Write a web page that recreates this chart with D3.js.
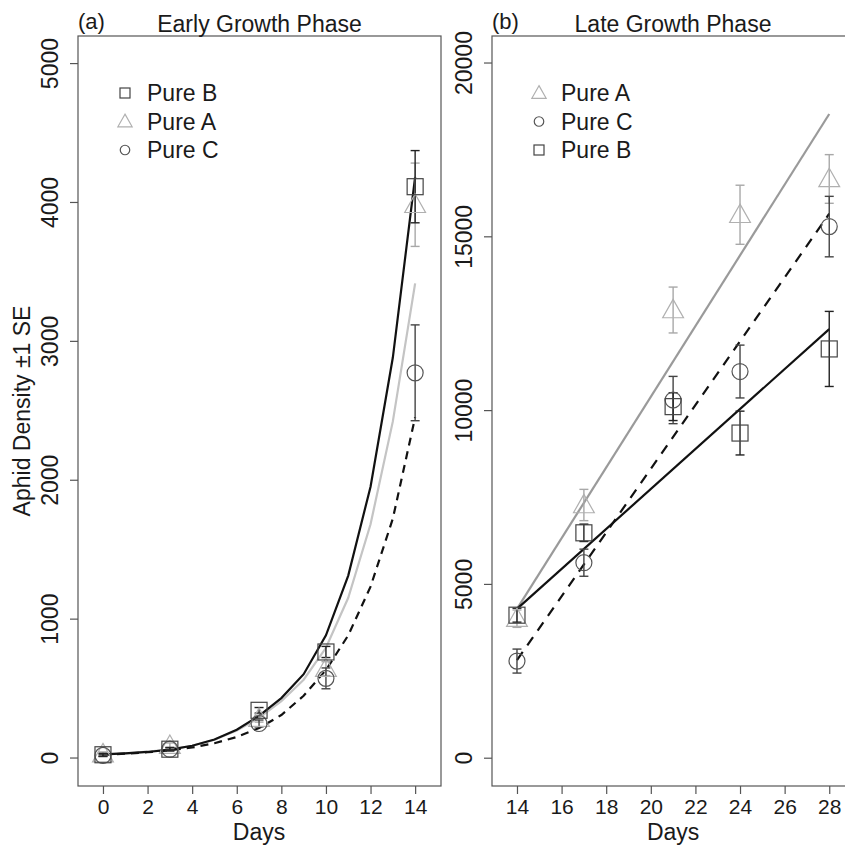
<!DOCTYPE html>
<html>
<head>
<meta charset="utf-8">
<script src="https://cdn.jsdelivr.net/npm/d3@7"></script>
<style>
  html, body { margin: 0; padding: 0; background: #fff; }
  svg { display: block; font-family: "Liberation Sans", Arial, sans-serif; }
</style>
</head>
<body>
<svg id="chart" width="845" height="847"></svg>
<script>
// ---------- Data ----------
// Panel (a) Early growth phase
const daysEarly = [0, 3, 7, 10, 14];
const earlyB = [20, 60, 340, 760, 4110];
const earlyBse = [10, 12, 20, 40, 260];
const earlyA = [25, 85, 280, 640, 3980];
const earlyAse = [15, 20, 25, 50, 300];
const earlyC = [15, 60, 245, 570, 2770];
const earlyCse = [8, 12, 25, 75, 345];
// fitted curves (read at integer days)
const fitDaysEarly = [0,1,2,3,4,5,6,7,8,9,10,11,12,13,14];
const fitEarlyB = [22,30,40,57,85,130,200,300,428,600,880,1310,1950,2880,4180];
const fitEarlyA = [22,30,42,58,85,128,195,285,405,560,790,1150,1680,2420,3414];
const fitEarlyC = [20,28,38,52,72,103,148,212,306,445,630,880,1230,1720,2450];

// Panel (b) Late growth phase
const daysLate = [14, 17, 21, 24, 28];
const lateA = [4000, 7270, 12880, 15620, 16650];
const lateAse = [250, 450, 660, 850, 700];
const lateC = [2780, 5610, 10290, 11110, 15280];
const lateCse = [345, 390, 680, 760, 870];
const lateB = [4100, 6470, 10100, 9340, 11760];
const lateBse = [200, 250, 400, 630, 1080];
const fitDaysLate = [14, 28];
const fitLateA = [4280, 18520];
const fitLateB = [4280, 12330];
const fitLateC = [2810, 15650];

const ticksXEarly = [0, 2, 4, 6, 8, 10, 12, 14];
const ticksYEarly = [0, 1000, 2000, 3000, 4000, 5000];
const ticksXLate = [14, 16, 18, 20, 22, 24, 26, 28];
const ticksYLate = [0, 5000, 10000, 15000, 20000];

// ---------- Styles ----------
const AXIS = "#555";
const TEXT = "#1a1a1a";
const style = {
  B: { shape: "square", stroke: "#444", err: "#222" },
  A: { shape: "triangle", stroke: "#b0b0b0", err: "#a8a8a8" },
  C: { shape: "circle", stroke: "#555", err: "#444" }
};

const svg = d3.select("#chart");

function symbol(g, shape, x, y, s, color) {
  if (shape === "square") {
    g.append("rect").attr("x", x - s/2).attr("y", y - s/2).attr("width", s).attr("height", s)
      .attr("fill", "none").attr("stroke", color).attr("stroke-width", 1.2);
  } else if (shape === "circle") {
    g.append("circle").attr("cx", x).attr("cy", y).attr("r", s/2)
      .attr("fill", "none").attr("stroke", color).attr("stroke-width", 1.2);
  } else {
    const w = s * 1.3 / 2, h = s * 1.15;
    g.append("path")
      .attr("d", `M${x},${y - h*0.58}L${x + w},${y + h*0.42}L${x - w},${y + h*0.42}Z`)
      .attr("fill", "none").attr("stroke", color).attr("stroke-width", 1.2);
  }
}

function panel(cfg) {
  const g = svg.append("g");
  const x = d3.scaleLinear().domain(cfg.xdom).range([cfg.left, cfg.right]);
  const y = d3.scaleLinear().domain(cfg.ydom).range([cfg.bottom, cfg.top]);

  // box
  g.append("rect").attr("x", cfg.left).attr("y", cfg.top)
    .attr("width", cfg.right - cfg.left).attr("height", cfg.bottom - cfg.top)
    .attr("fill", "none").attr("stroke", AXIS).attr("stroke-width", 1.2);

  // axes
  const ax = g.append("g").attr("transform", `translate(0,${cfg.bottom})`)
    .call(d3.axisBottom(x).tickValues(cfg.xticks).tickSize(8).tickPadding(5).tickFormat(d3.format("d")));
  ax.select(".domain").remove();
  ax.selectAll("line").attr("stroke", AXIS).attr("stroke-width", 1.2);
  ax.selectAll("text").attr("font-size", 21).attr("fill", TEXT).attr("font-family", "Liberation Sans, Arial, sans-serif");

  const ay = g.append("g").attr("transform", `translate(${cfg.left},0)`)
    .call(d3.axisLeft(y).tickValues(cfg.yticks).tickSize(8).tickFormat(d3.format("d")));
  ay.select(".domain").remove();
  ay.selectAll("line").attr("stroke", AXIS).attr("stroke-width", 1.2);
  ay.selectAll("text")
    .attr("font-size", 23).attr("fill", TEXT).attr("font-family", "Liberation Sans, Arial, sans-serif")
    .attr("text-anchor", "middle").attr("dy", null).attr("x", null)
    .attr("transform", "translate(-26,0) rotate(-90)").attr("y", 0).attr("dominant-baseline", "middle");

  // x label
  g.append("text").attr("x", x(cfg.daysCenter)).attr("y", 840).attr("text-anchor", "middle")
    .attr("font-size", 23).attr("fill", TEXT).text("Days");

  // titles
  g.append("text").attr("x", cfg.left).attr("y", 29).attr("font-size", 22).attr("fill", TEXT).text(cfg.tag);
  g.append("text").attr("x", (cfg.left + cfg.right) / 2).attr("y", 32).attr("text-anchor", "middle")
    .attr("font-size", 23).attr("fill", TEXT).text(cfg.title);

  // fitted lines
  const line = d3.line().x(d => x(d[0])).y(d => y(d[1]));
  cfg.fits.forEach(f => {
    g.append("path").datum(f.days.map((d, i) => [d, f.vals[i]]))
      .attr("d", line).attr("fill", "none").attr("stroke", f.color)
      .attr("stroke-width", 2.2).attr("stroke-dasharray", f.dash || null);
  });

  // error bars & points
  cfg.series.forEach(s => {
    const st = style[s.key];
    s.days.forEach((d, i) => {
      const cx = x(d), lo = y(s.vals[i] - s.se[i]), hi = y(s.vals[i] + s.se[i]);
      g.append("line").attr("x1", cx).attr("x2", cx).attr("y1", lo).attr("y2", hi)
        .attr("stroke", st.err).attr("stroke-width", 1.4);
      [lo, hi].forEach(yy => g.append("line").attr("x1", cx - 4.5).attr("x2", cx + 4.5)
        .attr("y1", yy).attr("y2", yy).attr("stroke", st.err).attr("stroke-width", 1.4));
    });
  });
  cfg.series.forEach(s => {
    const st = style[s.key];
    s.days.forEach((d, i) => {
      symbol(g, st.shape, x(d), y(s.vals[i]), 16, st.stroke);
    });
  });

  // legend
  cfg.legend.forEach((k, i) => {
    const st = style[k];
    const yy = 93 + i * 28.5;
    symbol(g, st.shape, cfg.legX, yy, st.shape === "square" ? 10 : (st.shape === "circle" ? 9.5 : 11), st.stroke);
    g.append("text").attr("x", cfg.legX + 22).attr("y", yy + 8).attr("font-size", 23)
      .attr("fill", TEXT).text("Pure " + k);
  });
}

panel({
  left: 78, right: 441, top: 36, bottom: 786,
  xdom: [-1.12, 15.16], ydom: [-205, 5195],
  xticks: ticksXEarly, yticks: ticksYEarly, daysCenter: 7,
  tag: "(a)", title: "Early Growth Phase",
  fits: [
    { days: fitDaysEarly, vals: fitEarlyA, color: "#c4c4c4" },
    { days: fitDaysEarly, vals: fitEarlyC, color: "#111", dash: "8,6" },
    { days: fitDaysEarly, vals: fitEarlyB, color: "#111" }
  ],
  series: [
    { key: "A", days: daysEarly, vals: earlyA, se: earlyAse },
    { key: "C", days: daysEarly, vals: earlyC, se: earlyCse },
    { key: "B", days: daysEarly, vals: earlyB, se: earlyBse }
  ],
  legend: ["B", "A", "C"], legX: 125
});

panel({
  left: 492, right: 854, top: 36, bottom: 786,
  xdom: [12.88, 29.11], ydom: [-814, 20763],
  xticks: ticksXLate, yticks: ticksYLate, daysCenter: 21,
  tag: "(b)", title: "Late Growth Phase",
  fits: [
    { days: fitDaysLate, vals: fitLateA, color: "#9a9a9a" },
    { days: fitDaysLate, vals: fitLateC, color: "#111", dash: "10,8" },
    { days: fitDaysLate, vals: fitLateB, color: "#111" }
  ],
  series: [
    { key: "A", days: daysLate, vals: lateA, se: lateAse },
    { key: "C", days: daysLate, vals: lateC, se: lateCse },
    { key: "B", days: daysLate, vals: lateB, se: lateBse }
  ],
  legend: ["A", "C", "B"], legX: 539
});

// y-axis label
svg.append("text").attr("transform", "translate(30,411) rotate(-90)")
  .attr("text-anchor", "middle").attr("font-size", 23).attr("fill", TEXT)
  .text("Aphid Density ±1 SE");
</script>
</body>
</html>
